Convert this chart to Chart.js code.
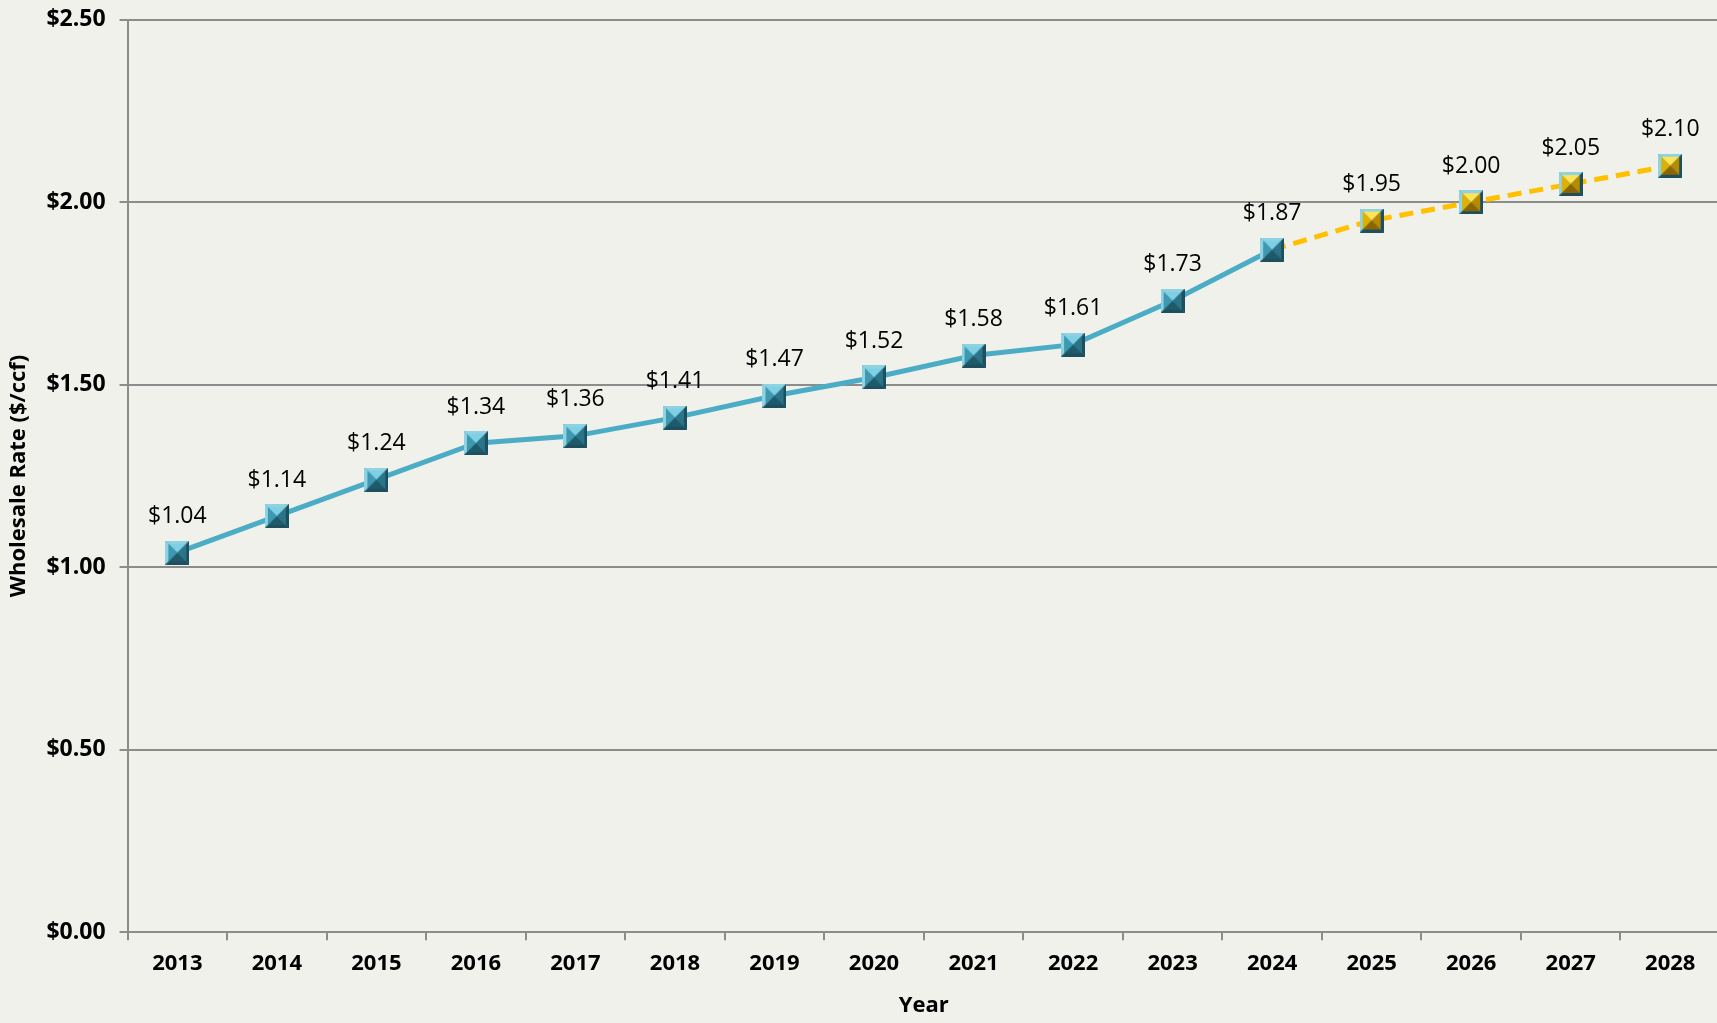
<!DOCTYPE html>
<html>
<head>
<meta charset="utf-8">
<script src="https://cdn.jsdelivr.net/npm/chart.js@4"></script>
<style>
  html, body { margin: 0; padding: 0; background: #f0f1ea; overflow: hidden; }
  #wrap { width: 1717px; height: 1023px; overflow: hidden; position: relative; }
  #rate-chart { position: absolute; left: 0; top: -8px; }
</style>
</head>
<body>
<div id="wrap"><canvas id="rate-chart" width="1729" height="1029"></canvas></div>
<script>
// 年度
const years = ["2013","2014","2015","2016","2017","2018","2019","2020","2021","2022","2023","2024","2025","2026","2027","2028"];
// 実績 (2013-2024)
const actualRates = [1.04, 1.14, 1.24, 1.34, 1.36, 1.41, 1.47, 1.52, 1.58, 1.61, 1.73, 1.87, null, null, null, null];
// 予測 (2024-2028)
const projectedRates = [null, null, null, null, null, null, null, null, null, null, null, 1.87, 1.95, 2.00, 2.05, 2.10];
const yTicks = [0, 0.5, 1.0, 1.5, 2.0, 2.5];

// 立体的な四角マーカーを作る
function bevelMarker(frame, inner) {
  const s = 24;
  const c = document.createElement("canvas");
  c.width = s; c.height = s;
  const ctx = c.getContext("2d");
  const tri = (pts, col) => {
    ctx.beginPath();
    ctx.moveTo(pts[0][0], pts[0][1]);
    pts.slice(1).forEach(p => ctx.lineTo(p[0], p[1]));
    ctx.closePath();
    ctx.fillStyle = col;
    ctx.fill();
  };
  const m = s / 2;
  // 外枠
  ctx.fillStyle = frame[1];
  ctx.fillRect(0, 0, s, s);
  tri([[0,0],[s,0],[s-3,3],[3,3]], frame[0]);
  tri([[0,0],[3,3],[3,s-3],[0,s]], frame[0]);
  tri([[s,0],[s,s],[s-3,s-3],[s-3,3]], frame[2]);
  tri([[0,s],[s,s],[s-3,s-3],[3,s-3]], frame[2]);
  // ピラミッド
  const a = 3, b = s - 3;
  tri([[a,a],[b,a],[m,m]], inner[0]);
  tri([[a,a],[a,b],[m,m]], inner[1]);
  tri([[b,a],[b,b],[m,m]], inner[2]);
  tri([[a,b],[b,b],[m,m]], inner[3]);
  return c;
}

const blueMarker = bevelMarker(["#8fd3e3", "#3f9bb3", "#1d4f5e"], ["#7fd0e4", "#3d98b0", "#2a7388", "#1f5a6b"]);
const goldMarker = bevelMarker(["#8fd3e3", "#3f9bb3", "#1d4f5e"], ["#ffe45a", "#e0b000", "#b88a00", "#8a6500"]);

// データラベル
const valueLabels = {
  id: "valueLabels",
  afterDatasetsDraw(chart) {
    const ctx = chart.ctx;
    ctx.save();
    ctx.font = "23px 'Open Sans'";
    ctx.fillStyle = "#000";
    ctx.textAlign = "center";
    ctx.textBaseline = "middle";
    chart.data.datasets.forEach((ds, di) => {
      const meta = chart.getDatasetMeta(di);
      meta.data.forEach((pt, i) => {
        const v = ds.data[i];
        if (v === null) return;
        if (di === 1 && actualRates[i] !== null) return;
        ctx.fillText("$" + v.toFixed(2), pt.x, pt.y - 36);
      });
    });
    ctx.restore();
  }
};

const canvas = document.getElementById("rate-chart");
new Chart(canvas, {
  type: "line",
  data: {
    labels: years,
    datasets: [
      {
        label: "Actual",
        data: actualRates,
        borderColor: "#4bacc6",
        borderWidth: 5,
        pointStyle: blueMarker,
        spanGaps: false,
        order: 2
      },
      {
        label: "Projected",
        data: projectedRates,
        borderColor: "#ffc000",
        borderWidth: 5,
        borderDash: [14, 8],
        pointStyle: years.map((y, i) => i === 11 ? blueMarker : goldMarker),
        order: 1
      }
    ]
  },
  options: {
    responsive: false,
    animation: false,
    layout: { padding: { top: 2, right: 0, left: 2, bottom: 0 } },
    plugins: {
      legend: { display: false },
      tooltip: { enabled: false }
    },
    scales: {
      x: {
        offset: true,
        grid: {
          offset: true,
          drawOnChartArea: false,
          color: "#8c8c8c",
          lineWidth: 2,
          tickLength: 8
        },
        border: { color: "#8c8c8c", width: 2 },
        ticks: {
          color: "#000",
          font: { family: "'Open Sans'", size: 22, weight: "bold" },
          padding: 10
        },
        title: {
          display: true,
          text: "Year",
          color: "#000",
          font: { family: "'Open Sans'", size: 22, weight: "bold" },
          padding: { top: 6, bottom: 2 }
        }
      },
      y: {
        min: 0,
        max: 2.5,
        afterBuildTicks(axis) {
          axis.ticks = yTicks.map(v => ({ value: v }));
        },
        grid: {
          color: "#8c8c8c",
          lineWidth: 2,
          tickLength: 8
        },
        border: { color: "#8c8c8c", width: 2 },
        ticks: {
          color: "#000",
          font: { family: "'Open Sans'", size: 23, weight: "bold" },
          padding: 14,
          callback: v => "$" + Number(v).toFixed(2)
        },
        title: {
          display: true,
          text: "Wholesale Rate ($/ccf)",
          color: "#000",
          font: { family: "'Open Sans'", size: 22, weight: "bold" },
          padding: { bottom: 0 }
        }
      }
    }
  },
  plugins: [valueLabels]
});
</script>
</body>
</html>
